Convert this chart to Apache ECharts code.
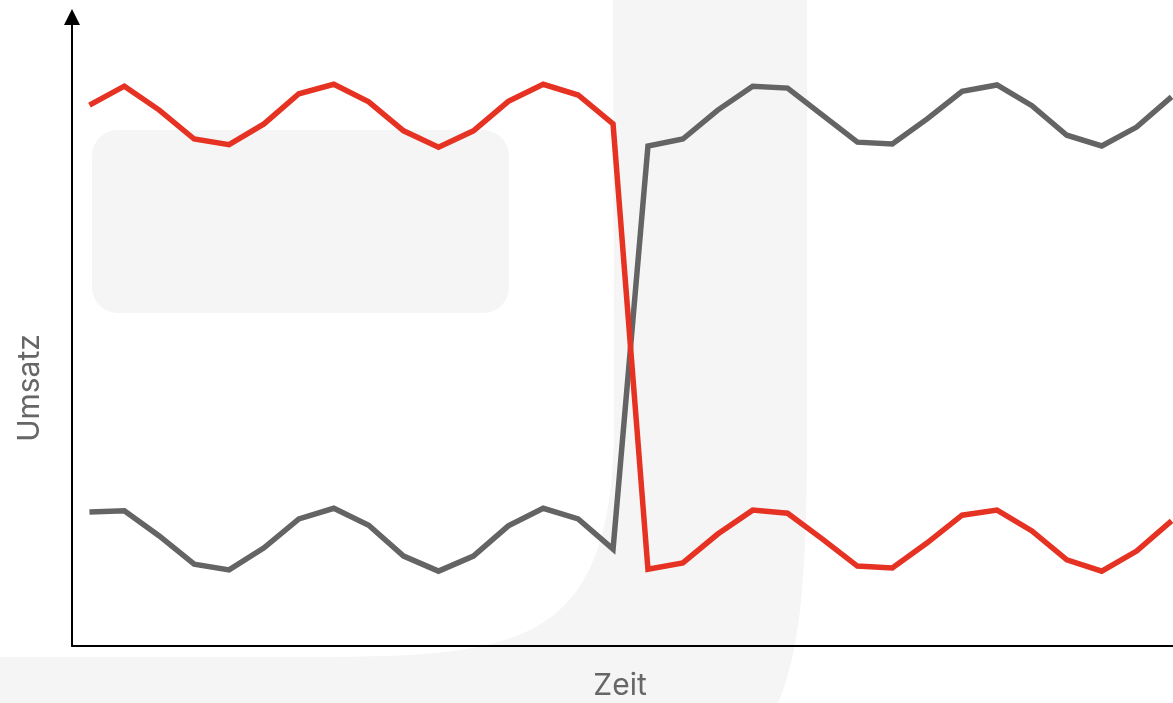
<!DOCTYPE html>
<html>
<head>
<meta charset="utf-8">
<title>Umsatz über Zeit</title>
<script src="https://cdn.jsdelivr.net/npm/echarts@6/dist/echarts.min.js"></script>
<style>
  html, body { margin: 0; padding: 0; background: #ffffff; }
  #chart { width: 1173px; height: 703px; }
</style>
</head>
<body>
<div id="chart"></div>
<script>
// Time steps along the x axis (labels are not shown)
const periods = [
  'P01','P02','P03','P04','P05','P06','P07','P08','P09','P10','P11','P12','P13','P14','P15','P16',
  'P17','P18','P19','P20','P21','P22','P23','P24','P25','P26','P27','P28','P29','P30','P31','P32'
];

// Revenue series (0–100 scale)
const revenueRed = [
  86.0, 89.0, 85.2, 80.6, 79.7, 83.0, 87.8, 89.3, 86.5, 81.9, 79.3, 81.9, 86.6, 89.3, 87.6, 83.0,
  12.2, 13.2, 17.8, 21.6, 21.1, 17.0, 12.7, 12.4, 16.4, 20.8, 21.6, 18.3, 13.7, 11.9, 15.1, 19.9
];
const revenueGray = [
  21.3, 21.5, 17.5, 13.0, 12.1, 15.6, 20.2, 21.9, 19.2, 14.3, 11.9, 14.3, 19.1, 21.9, 20.2, 15.4,
  79.5, 80.6, 85.2, 89.0, 88.7, 84.4, 80.1, 79.8, 83.8, 88.2, 89.2, 85.9, 81.2, 79.5, 82.5, 87.3
];

const yRange = [0, 100];

// Sample a cubic Bézier into polygon points
function cubic(p0, p1, p2, p3, n) {
  const pts = [];
  for (let i = 0; i <= n; i++) {
    const t = i / n, u = 1 - t;
    const a = u * u * u, b = 3 * u * u * t, c = 3 * u * t * t, d = t * t * t;
    pts.push([
      a * p0[0] + b * p1[0] + c * p2[0] + d * p3[0],
      a * p0[1] + b * p1[1] + c * p2[1] + d * p3[1]
    ]);
  }
  return pts;
}

// Decorative backdrop: large hook-shaped band
const hook = [].concat(
  [[613, 0], [807, 0]],
  cubic([807, 430], [807, 580], [800, 650], [778, 703], 40),
  [[0, 703], [0, 657]],
  cubic([300, 657], [520, 657], [614, 650], [614, 420], 60)
);

const chart = echarts.init(document.getElementById('chart'), null, { renderer: 'canvas' });

const axisLineStyle = { color: '#000000', width: 2 };
const backdrop = '#f5f5f5';

chart.setOption({
  animation: false,
  backgroundColor: '#ffffff',
  graphic: [
    {
      type: 'polygon',
      z: -10,
      silent: true,
      shape: { points: hook },
      style: { fill: backdrop }
    },
    {
      type: 'rect',
      z: -10,
      silent: true,
      shape: { x: 92, y: 130, width: 417, height: 183, r: 26 },
      style: { fill: backdrop }
    },
    {
      type: 'text',
      x: 30,
      y: 388,
      rotation: Math.PI / 2,
      style: {
        text: 'Umsatz',
        font: '30px Inter',
        fill: '#666666',
        align: 'center',
        verticalAlign: 'middle',
        textAlign: 'center',
        textVerticalAlign: 'middle'
      }
    },
    {
      type: 'text',
      x: 620,
      y: 686,
      style: {
        text: 'Zeit',
        font: '30px Inter',
        fill: '#666666',
        align: 'center',
        verticalAlign: 'middle',
        textAlign: 'center',
        textVerticalAlign: 'middle'
      }
    }
  ],
  grid: {
    left: 72, top: 17, width: 1117, bottom: 57,
    containLabel: false,
    outerBoundsMode: 'none'
  },
  xAxis: {
    type: 'category',
    data: periods,
    boundaryGap: true,
    axisLine: {
      show: true,
      lineStyle: axisLineStyle,
      symbol: ['none', 'triangle'],
      symbolSize: [16, 16]
    },
    axisTick: { show: false },
    axisLabel: { show: false },
    splitLine: { show: false }
  },
  yAxis: {
    type: 'value',
    min: yRange[0],
    max: yRange[1],
    axisLine: {
      show: true,
      onZero: false,
      lineStyle: axisLineStyle,
      symbol: ['none', 'triangle'],
      symbolSize: [16, 16]
    },
    axisTick: { show: false },
    axisLabel: { show: false },
    splitLine: { show: false }
  },
  series: [
    {
      name: 'Grau',
      type: 'line',
      data: revenueGray,
      symbol: 'none',
      lineStyle: { color: '#646464', width: 5.5, join: 'miter' },
      z: 3
    },
    {
      name: 'Rot',
      type: 'line',
      data: revenueRed,
      symbol: 'none',
      lineStyle: { color: '#e63222', width: 5.5, join: 'miter' },
      z: 4
    }
  ]
});
</script>
</body>
</html>
